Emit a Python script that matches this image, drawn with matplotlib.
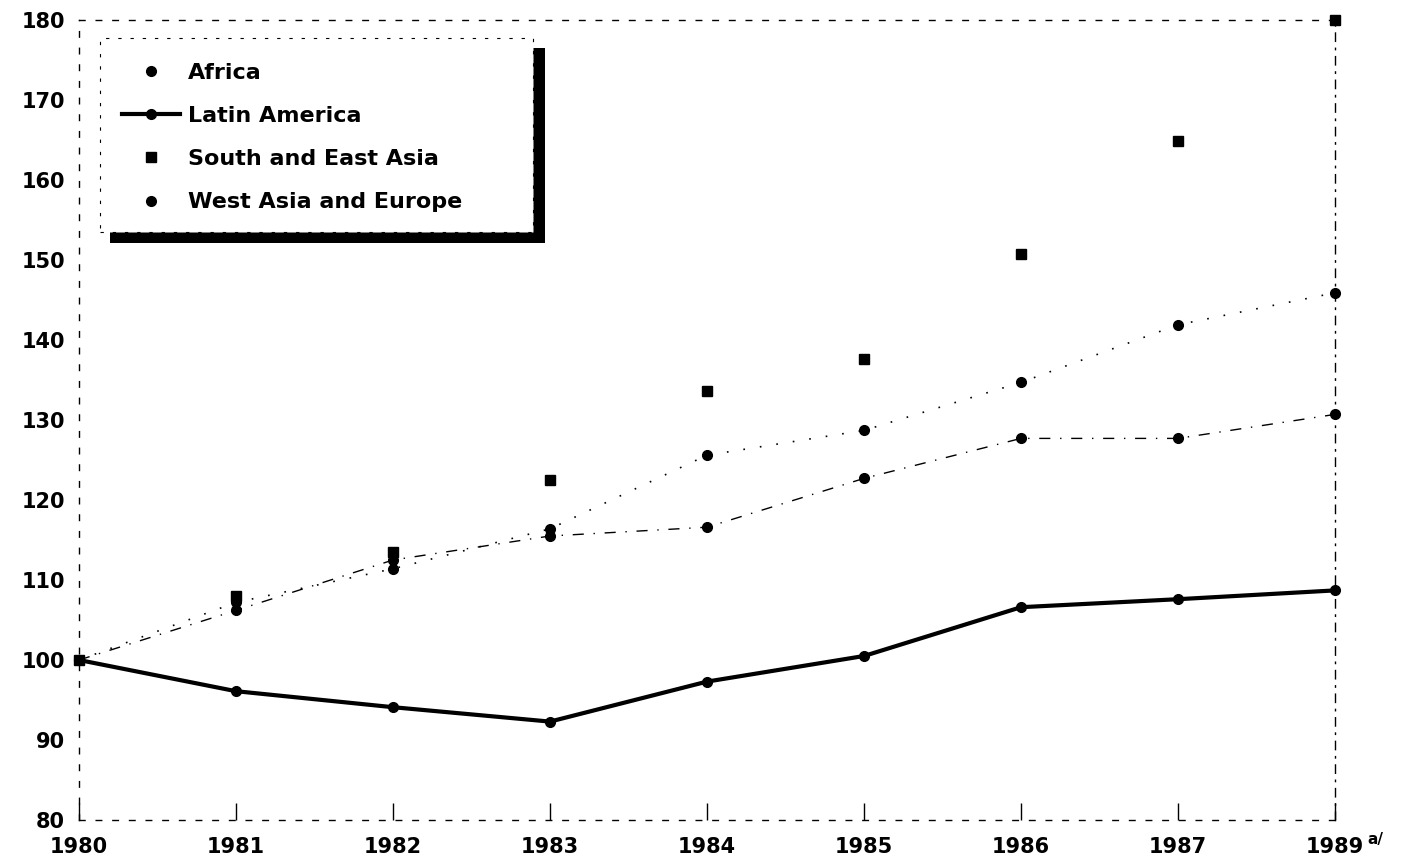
import matplotlib.pyplot as plt
from matplotlib.patches import Rectangle

# Index values, 1980 = 100
years = [1980, 1981, 1982, 1983, 1984, 1985, 1986, 1987, 1988]
year_labels = ['1980', '1981', '1982', '1983', '1984', '1985', '1986', '1987', '1989']

africa = [100, 106.2, 112.5, 115.5, 116.6, 122.7, 127.7, 127.7, 130.7]
latin_america = [100, 96.1, 94.1, 92.3, 97.3, 100.5, 106.6, 107.6, 108.7]
south_east_asia = [100, 108.0, 113.5, 122.5, 133.6, 137.6, 150.7, 164.9, 180.0]
west_asia_europe = [100, 107.2, 111.4, 116.4, 125.6, 128.7, 134.7, 141.9, 145.9]

plt.rcParams['font.family'] = ['DejaVu Sans']
plt.rcParams['font.weight'] = 'bold'

fig = plt.figure(figsize=(14.01, 8.66), dpi=100)
ax = fig.add_axes([79 / 1401, 1 - 820 / 866, (1335 - 79) / 1401, 800 / 866])

ax.plot(years, africa, color='k', linestyle=(0, (8, 7, 1, 7)), linewidth=1,
        marker='o', markersize=7, label='Africa', clip_on=False)
ax.plot(years, latin_america, color='k', linestyle='-', linewidth=3,
        marker='o', markersize=7, label='Latin America', clip_on=False)
ax.plot(years, south_east_asia, color='k', linestyle='none',
        marker='s', markersize=7, label='South and East Asia', clip_on=False)
ax.plot(years, west_asia_europe, color='k', linestyle=(0, (1, 9)), linewidth=1.2,
        marker='o', markersize=7, label='West Asia and Europe', clip_on=False)

ax.set_xlim(1980, 1988)
ax.set_ylim(80, 180)
ax.set_xticks(years)
ax.set_xticklabels(year_labels)
ax.set_yticks(range(80, 181, 10))

ax.tick_params(axis='x', direction='in', length=12, width=1, pad=12, labelsize=15)
ax.tick_params(axis='y', length=0, pad=10, labelsize=15)
for lbl in ax.get_xticklabels() + ax.get_yticklabels():
    lbl.set_fontweight('bold')

# footnote mark after the last year
ax.annotate('a/', xy=(1, 0), xycoords='axes fraction', xytext=(23, -14),
            textcoords='offset points', fontsize=11, fontweight='bold',
            ha='left', va='center')

for side in ['left', 'right', 'top', 'bottom']:
    ax.spines[side].set_linestyle((0, (4, 8)))
    ax.spines[side].set_linewidth(1)
ax.spines['right'].set_linestyle((0, (6, 5, 1, 5)))

# Legend box with heavy shadow
W, H = 1401, 866
fig.add_artist(Rectangle((110 / W, 1 - 243 / H), 435 / W, 195 / H,
                         transform=fig.transFigure, facecolor='black',
                         edgecolor='none', zorder=5))
fig.add_artist(Rectangle((100 / W, 1 - 232 / H), 433 / W, 194 / H,
                         transform=fig.transFigure, facecolor='white',
                         edgecolor='black', linestyle=(0, (3, 8)),
                         linewidth=0.8, zorder=6))

handles, labels = ax.get_legend_handles_labels()
leg = fig.legend(handles, labels, loc='upper left',
                 bbox_to_anchor=(122 / W, 1 - 63 / H),
                 bbox_transform=fig.transFigure, frameon=False,
                 prop={'size': 16, 'weight': 'bold'},
                 handlelength=2.6, handletextpad=0.35, labelspacing=1.04,
                 borderpad=0, borderaxespad=0)
leg.set_zorder(7)
for h in leg.legend_handles:
    if h.get_label() != 'Latin America':
        h.set_linestyle('none')

fig.savefig('out.png', dpi=100)
